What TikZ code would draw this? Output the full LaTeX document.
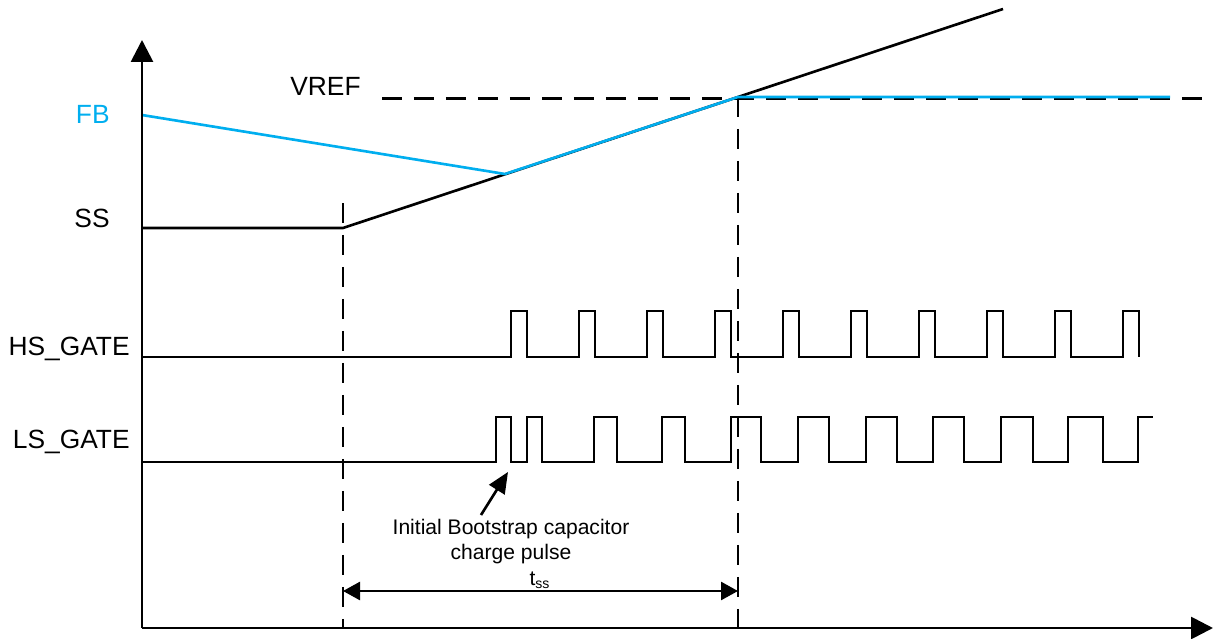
\documentclass[tikz,border=0pt]{standalone}
\usepackage{fontspec}
\setmainfont{Liberation Sans}
\usepackage{tikz}
\usetikzlibrary{arrows.meta,calc,positioning}
\definecolor{fbblue}{RGB}{0,174,239}
\tikzset{
	signal/.style={draw=black, line width=1.5pt},
	fbline/.style={draw=fbblue, line width=1.5pt},
	guide/.style={draw=black, line width=1.6pt, dash pattern=on 0.4cm off 0.24cm},
	axis/.style={draw=black, line width=1.6pt, -{Triangle[length=0.44cm,width=0.44cm]}},
	lbl/.style={inner sep=0pt, font=\fontsize{15}{18}\selectfont, anchor=base east},
	note/.style={inner sep=0pt, align=center, font=\fontsize{12}{14.2}\selectfont}
}

\begin{document}
\begin{tikzpicture}[x=0.02cm, y=-0.02cm]
  \useasboundingbox (0,0) rectangle (1214,639);

  \coordinate (origin) at (142,628);
  \coordinate (ytip) at (142,40);
  \coordinate (xtip) at (1213,628);
  \coordinate (ss0) at (142,228);
  \coordinate (ss1) at (343,228);
  \coordinate (ssref) at (738,97);
  \coordinate (ssend) at (1003,9);
  \coordinate (fb0) at (142,115);
  \coordinate (fb1) at (505,174);
  \coordinate (fbend) at (1170,97);
  \coordinate (t0) at (343,591);
  \coordinate (t1) at (738,591);
  \coordinate (bspulse) at (508,472);

  \node[lbl, text=fbblue] (fb) at (110,123) {FB};
  \node[lbl] (ss) at (110,227) {SS};
  \node[lbl] (hs) at (130,355) {HS\_GATE};
  \node[lbl] (ls) at (130,448) {LS\_GATE};
  \node[lbl, anchor=base west] (vref) at (290,95) {VREF};
  \node[note, anchor=north] (note) at (511,519) {Initial Bootstrap capacitor\\charge pulse};
  \node[note, anchor=base] (tss) at (540,585) {t\textsubscript{ss}};

  \draw[guide] (382,98.5) -- (1202,98.5);
  \draw[guide] (343,203) -- (343,628);
  \draw[guide] (ssref) -- (ssref |- origin);

  \draw[signal] (ss0) -- (ss1) -- (ssref) -- (ssend);
  \draw[fbline] (fb0) -- (fb1) -- (ssref) -- (fbend);

  \draw[signal] (142,357) \foreach \i in {0,...,9}{ -- ({511+68*\i},357) |- ({527+68*\i},311) -- ({527+68*\i},357) };
  \draw[signal] (142,462) -- (496,462) |- (511,417) -- (511,462) -- (527,462) |- (542,417) -- (542,462)
    \foreach \r/\f in {594/617,662/685,731/761,798/829,866/897,933/964,1001/1033,1068/1103}{ -- (\r,462) |- (\f,417) -- (\f,462) }
    -- (1138,462) |- (1153,417);

  \draw[axis] (origin) -- (ytip);
  \draw[axis] (origin) -- (xtip);

  \draw[signal, -{Triangle[length=0.42cm,width=0.36cm]}] ($(note.north)+(-30,-4)$) -- (bspulse);
  \draw[signal, {Triangle[length=0.34cm,width=0.36cm]}-{Triangle[length=0.34cm,width=0.36cm]}] (t0) -- (t1);
\end{tikzpicture}
\end{document}
